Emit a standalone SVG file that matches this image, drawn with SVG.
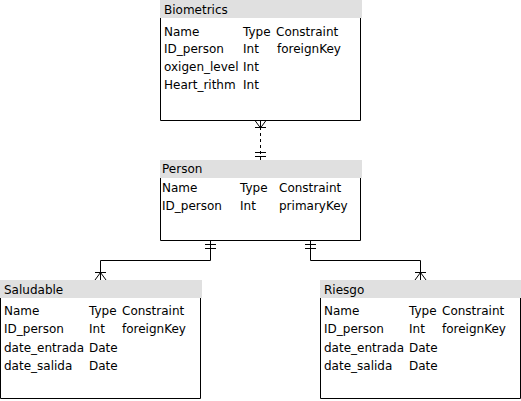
<svg xmlns="http://www.w3.org/2000/svg" width="521" height="401" viewBox="0 0 521 401">
<style>
.hdr{fill:#e0e0e0;stroke:none}
.body{fill:#fff;stroke:#000;stroke-width:1}
.t{font-family:"DejaVu Sans",Verdana,sans-serif;font-size:12px;fill:#000}
.c{fill:none;stroke:#000;stroke-width:1}
.d{stroke-dasharray:3 3}
</style>
<rect width="521" height="401" fill="#fff"/>
<g id="biometrics">
<rect class="hdr" x="160" y="0" width="202" height="18"/>
<path class="body" d="M160.5,18 V120.5 H360.5 V18" fill="#fff"/>
<text class="t" x="164" y="14">Biometrics</text>
<text class="t" x="164" y="36">Name</text><text class="t" x="243" y="36">Type</text><text class="t" x="276" y="36">Constraint</text>
<text class="t" x="164" y="53">ID_person</text><text class="t" x="243" y="53">Int</text><text class="t" x="277" y="53">foreignKey</text>
<text class="t" x="164" y="71">oxigen_level</text><text class="t" x="243" y="71">Int</text>
<text class="t" x="164" y="89">Heart_rithm</text><text class="t" x="243" y="89">Int</text>
</g>
<g id="person">
<rect class="hdr" x="160" y="160" width="202" height="18"/>
<path class="body" d="M160.5,178 V240.5 H360.5 V178"/>
<text class="t" x="162" y="173">Person</text>
<text class="t" x="162" y="192">Name</text><text class="t" x="240" y="192">Type</text><text class="t" x="279" y="192">Constraint</text>
<text class="t" x="162" y="210">ID_person</text><text class="t" x="240" y="210">Int</text><text class="t" x="279" y="210">primaryKey</text>
</g>
<g id="saludable">
<rect class="hdr" x="0" y="280" width="202" height="18"/>
<path class="body" d="M0.5,298 V398.5 H200.5 V298"/>
<text class="t" x="4" y="294">Saludable</text>
<text class="t" x="4" y="315">Name</text><text class="t" x="89" y="315">Type</text><text class="t" x="122" y="315">Constraint</text>
<text class="t" x="4" y="333">ID_person</text><text class="t" x="89" y="333">Int</text><text class="t" x="122" y="333">foreignKey</text>
<text class="t" x="4" y="352">date_entrada</text><text class="t" x="89" y="352">Date</text>
<text class="t" x="4" y="370">date_salida</text><text class="t" x="89" y="370">Date</text>
</g>
<g id="riesgo">
<rect class="hdr" x="320" y="280" width="202" height="18"/>
<path class="body" d="M320.5,298 V398.5 H520.5 V298"/>
<text class="t" x="324" y="294">Riesgo</text>
<text class="t" x="324" y="315">Name</text><text class="t" x="409" y="315">Type</text><text class="t" x="442" y="315">Constraint</text>
<text class="t" x="324" y="333">ID_person</text><text class="t" x="409" y="333">Int</text><text class="t" x="442" y="333">foreignKey</text>
<text class="t" x="324" y="352">date_entrada</text><text class="t" x="409" y="352">Date</text>
<text class="t" x="324" y="370">date_salida</text><text class="t" x="409" y="370">Date</text>
</g>
<g id="connectors">
<path class="c d" d="M260.5,121 V160"/>
<path class="c" d="M255,120.5 L260.5,128 L266,120.5 M260.5,121 V128 M255,127.5 H266"/>
<path class="c" d="M255,152.5 H266 M255,156.5 H266"/>
<path class="c" d="M210.5,241 V260.5 H100.5 V280"/>
<path class="c" d="M205,244.5 H216 M205,248.5 H216"/>
<path class="c" d="M95,280 L100.5,272.5 L106,280 M95,272.5 H106"/>
<path class="c" d="M310.5,241 V260.5 H420.5 V280"/>
<path class="c" d="M305,244.5 H316 M305,248.5 H316"/>
<path class="c" d="M415,280 L420.5,272.5 L426,280 M415,272.5 H426"/>
</g>
</svg>
